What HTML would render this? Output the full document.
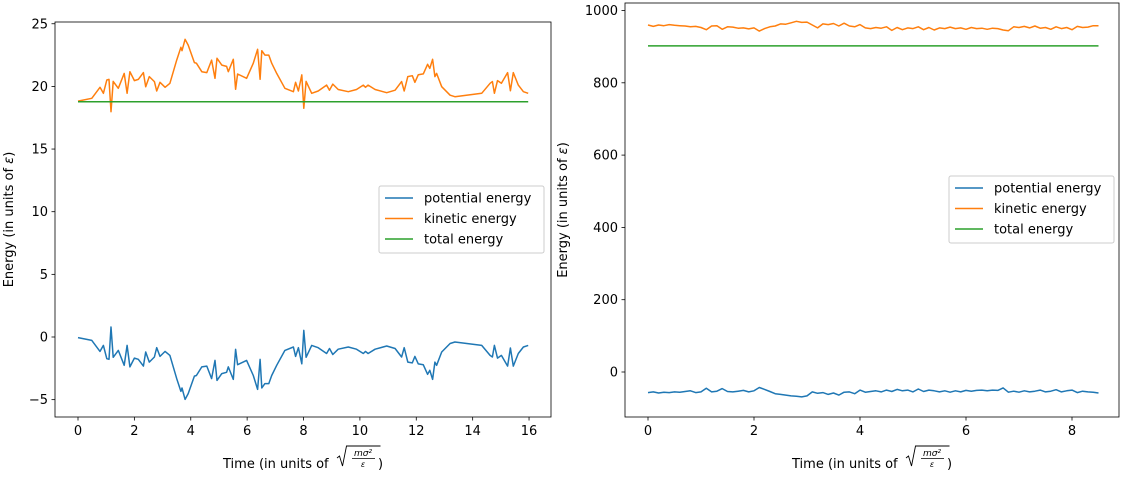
<!DOCTYPE html>
<html><head><meta charset="utf-8"><style>
body{margin:0;background:#fff;font-family:"Liberation Sans","DejaVu Sans",sans-serif}
svg text{font-family:"DejaVu Sans","Liberation Sans",sans-serif;font-size:13px;fill:#000}
</style></head><body>
<svg id="fig" width="1125" height="478" xmlns="http://www.w3.org/2000/svg"></svg>
<script>
// Left chart data
const leftTime=[0,0.49,0.78,0.90,1.02,1.10,1.17,1.25,1.43,1.64,1.74,1.84,2.0,2.14,2.32,2.40,2.53,2.71,2.79,2.91,3.09,3.26,3.50,3.65,3.69,3.80,3.91,4.13,4.2,4.39,4.57,4.74,4.86,4.93,5.10,5.27,5.33,5.51,5.59,5.66,5.98,6.22,6.37,6.46,6.52,6.63,6.77,6.87,7.05,7.34,7.64,7.72,7.82,7.94,8.01,8.09,8.29,8.52,8.82,8.92,9.04,9.23,9.59,9.88,10.12,10.20,10.29,10.54,10.95,11.25,11.48,11.57,11.70,11.86,11.95,12.07,12.25,12.40,12.48,12.58,12.66,12.72,12.90,13.20,13.37,14.32,14.62,14.7,14.77,14.88,15.02,15.24,15.34,15.44,15.62,15.80,15.97];
const leftKinetic=[18.83,19.05,19.93,19.45,20.51,20.56,17.98,20.4,19.85,21.04,19.45,21.17,20.46,20.56,21.1,19.98,20.78,20.38,19.63,20.33,19.93,20.25,22.1,23.12,22.85,23.76,23.3,21.9,21.85,21.17,21.1,22.1,20.65,22.24,21.7,21.6,21.17,22.16,19.77,20.99,20.65,21.85,22.96,20.57,22.85,22.5,22.5,21.85,21.04,19.85,19.58,20.33,19.63,20.92,18.25,20.4,19.45,19.63,20.1,19.7,20.18,19.75,19.58,19.75,20.1,19.93,20.1,19.75,19.5,19.7,20.38,19.63,20.78,20.85,20.33,20.93,21.0,21.76,21.44,22.16,20.78,21.04,19.98,19.3,19.18,19.45,20.25,20.38,19.45,20.46,20.25,21.1,19.66,21.1,20.1,19.58,19.45];
const leftPotential=[-0.05,-0.27,-1.15,-0.67,-1.73,-1.78,0.80,-1.62,-1.07,-2.26,-0.67,-2.39,-1.68,-1.78,-2.32,-1.20,-2.00,-1.60,-0.85,-1.55,-1.15,-1.47,-3.32,-4.34,-4.07,-4.98,-4.52,-3.12,-3.07,-2.39,-2.32,-3.32,-1.87,-3.46,-2.92,-2.82,-2.39,-3.38,-0.99,-2.21,-1.87,-3.07,-4.18,-1.79,-4.07,-3.72,-3.72,-3.07,-2.26,-1.07,-0.80,-1.55,-0.85,-2.14,0.53,-1.62,-0.67,-0.85,-1.32,-0.92,-1.40,-0.97,-0.80,-0.97,-1.32,-1.15,-1.32,-0.97,-0.72,-0.92,-1.60,-0.85,-2.00,-2.07,-1.55,-2.15,-2.22,-2.98,-2.66,-3.38,-2.00,-2.26,-1.20,-0.52,-0.40,-0.67,-1.47,-1.60,-0.67,-1.68,-1.47,-2.32,-0.88,-2.32,-1.32,-0.80,-0.67];
const leftTotal=[18.78,18.78];
const leftTotalTime=[0,15.97];
const leftXTicks=[0,2,4,6,8,10,12,14,16];
const leftYTicks=[-5,0,5,10,15,20,25];
// Right chart data
const rightTime=[0,0.1,0.2,0.3,0.4,0.5,0.6,0.7,0.8,0.9,1.0,1.1,1.2,1.3,1.4,1.5,1.6,1.7,1.8,1.9,2.0,2.1,2.2,2.3,2.4,2.5,2.6,2.7,2.8,2.9,3.0,3.1,3.2,3.3,3.4,3.5,3.6,3.7,3.8,3.9,4.0,4.1,4.2,4.3,4.4,4.5,4.6,4.7,4.8,4.9,5.0,5.1,5.2,5.3,5.4,5.5,5.6,5.7,5.8,5.9,6.0,6.1,6.2,6.3,6.4,6.5,6.6,6.7,6.8,6.9,7.0,7.1,7.2,7.3,7.4,7.5,7.6,7.7,7.8,7.9,8.0,8.1,8.2,8.3,8.4,8.5];
const rightKinetic=[960,956,960,958,961,959,958,957,955,956,953,947,957,958,948,955,954,951,952,949,952,943,950,955,957,963,962,966,970,967,968,960,952,963,961,964,957,965,957,955,961,952,950,953,951,955,945,953,947,952,950,955,947,953,946,952,950,954,950,952,948,953,950,951,948,951,950,946,944,955,953,956,952,957,951,953,948,955,950,953,947,956,953,954,958,958];
const rightPotential=[-57,-55,-58,-56,-57,-55,-56,-54,-52,-57,-55,-45,-55,-53,-46,-54,-55,-53,-51,-55,-52,-43,-48,-54,-60,-62,-64,-66,-67,-69,-66,-55,-59,-57,-62,-58,-64,-56,-55,-60,-50,-56,-54,-52,-55,-50,-54,-48,-52,-50,-55,-47,-54,-50,-52,-55,-52,-56,-52,-55,-51,-53,-51,-50,-52,-50,-51,-44,-56,-53,-56,-52,-55,-53,-50,-55,-53,-49,-55,-52,-50,-57,-53,-55,-56,-58];
const rightTotal=[902,902];
const rightTotalTime=[0,8.5];
const rightXTicks=[0,2,4,6,8];
const rightYTicks=[0,200,400,600,800,1000];

const NS="http://www.w3.org/2000/svg";
const svg=document.getElementById('fig');
function mk(tag,attrs,parent){const e=document.createElementNS(NS,tag);for(const k in attrs)e.setAttribute(k,attrs[k]);(parent||svg).appendChild(e);return e;}

function drawPanel(p){
  const g=mk('g',{});
  
  
  const sx=v=>p.x0+(v-p.xmin)*p.xs, sy=v=>p.y0-(v-p.ymin)*p.ys;
  const series=[[p.pt,p.pot,'#1f77b4','potential-energy-line'],[p.kt,p.kin,'#ff7f0e','kinetic-energy-line'],[p.tt,p.tot,'#2ca02c','total-energy-line']];
  series.forEach(s=>{
    const pts=s[1].map((v,i)=>sx(s[0][i]).toFixed(1)+','+sy(v).toFixed(1)).join(' ');
    const l=mk('polyline',{points:pts,fill:'none',stroke:s[2],'stroke-width':1.5,'stroke-linejoin':'round'},g);
    
    
  });
  const fr=mk('rect',{x:p.L,y:p.T,width:p.R-p.L,height:p.B-p.T,fill:'none',stroke:'#000','stroke-width':0.8},g);
  
  
  p.xticks.forEach(t=>{
    const x=sx(t);
    mk('line',{x1:x,x2:x,y1:p.B,y2:p.B+3.5,stroke:'#000','stroke-width':0.8},g);
    const tx=mk('text',{x:x,y:p.B+18,'text-anchor':'middle'},g);tx.textContent=t;
    
    
  });
  p.yticks.forEach(t=>{
    const y=sy(t);
    mk('line',{x1:p.L-3.5,x2:p.L,y1:y,y2:y,stroke:'#000','stroke-width':0.8},g);
    const tx=mk('text',{x:p.L-7,y:y+4.5,'text-anchor':'end'},g);tx.textContent=t<0?'\u2212'+(-t):t;
    
    
  });
  const cx=(p.L+p.R)/2;
  const xs0=cx-80;
  const xt=mk('text',{x:xs0,y:468},g);
  xt.textContent='Time (in units of';
  
  
  const sxs=xs0+114;
  mk('path',{d:`M${sxs},${458} l2.5,-2 l3,10 l4,-20 h34`,fill:'none',stroke:'#000','stroke-width':0.9},g);
  const fn=mk('text',{x:sxs+26,y:456,'text-anchor':'middle','font-style':'italic',style:'font-size:9px'},g);fn.textContent='mσ²';
  mk('line',{x1:sxs+15,x2:sxs+38,y1:458.5,y2:458.5,stroke:'#000','stroke-width':0.7},g);
  const fd=mk('text',{x:sxs+26,y:467,'text-anchor':'middle','font-style':'italic',style:'font-size:8px'},g);fd.textContent='ε';
  const cp=mk('text',{x:sxs+41,y:468},g);cp.textContent=')';
  const yt=mk('text',{x:0,y:0,'text-anchor':'middle',transform:`translate(${p.ytx},${(p.T+p.B)/2}) rotate(-90)`},g);
  yt.innerHTML='Energy (in units of <tspan font-style="italic">ε</tspan>)';
  
  
  // legend
  const lg=mk('g',{},g);
  
  
  mk('rect',{x:p.lx,y:p.ly,width:165,height:67,rx:2,fill:'#fff','fill-opacity':0.8,stroke:'#ccc','stroke-width':1},lg);
  [['potential energy','#1f77b4'],['kinetic energy','#ff7f0e'],['total energy','#2ca02c']].forEach((e,i)=>{
    const yy=p.ly+12+i*20.5;
    mk('line',{x1:p.lx+6,x2:p.lx+34,y1:yy,y2:yy,stroke:e[1],'stroke-width':1.5},lg);
    const t=mk('text',{x:p.lx+45,y:yy+4.5},lg);t.textContent=e[0];
    
    
  });
}
drawPanel({name:'left-chart',L:55,R:551,T:22,B:417,x0:78,xmin:0,xs:28.19,y0:337,ymin:0,ys:12.53,
  pt:leftTime,pot:leftPotential,kt:leftTime,kin:leftKinetic,tt:leftTotalTime,tot:leftTotal,
  xticks:leftXTicks,yticks:leftYTicks,ytx:13,lx:379,ly:186});
drawPanel({name:'right-chart',L:625,R:1119,T:3,B:417,x0:648,xmin:0,xs:53,y0:372,ymin:0,ys:0.3615,
  pt:rightTime,pot:rightPotential,kt:rightTime,kin:rightKinetic,tt:rightTotalTime,tot:rightTotal,
  xticks:rightXTicks,yticks:rightYTicks,ytx:567,lx:949,ly:176});
</script>
</body></html>
